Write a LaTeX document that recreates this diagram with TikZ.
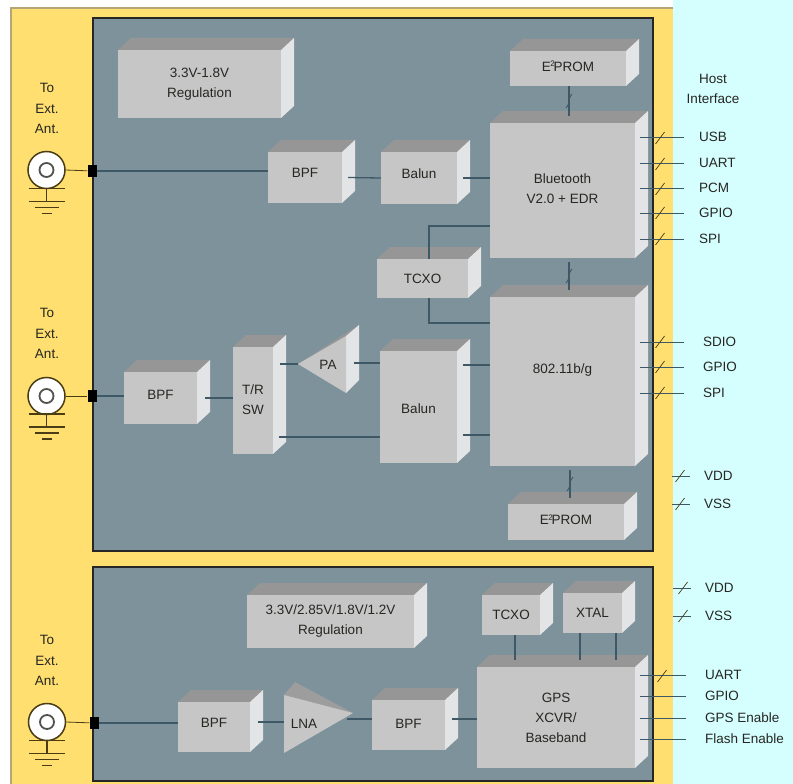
\documentclass[tikz,border=0pt]{standalone}
\usepackage{fontspec}
\setmainfont{Liberation Sans}
\definecolor{yel}{HTML}{FFDF70}
\definecolor{panel}{HTML}{7D929B}
\definecolor{frontc}{HTML}{C6C6C6}
\definecolor{topc}{HTML}{969696}
\definecolor{sidec}{HTML}{E2E4E6}
\definecolor{cyanbg}{HTML}{D5FFFF}
\definecolor{wire}{HTML}{3F5866}
\definecolor{ink}{HTML}{262622}
\definecolor{brownl}{HTML}{4A3C14}
\definecolor{tanl}{HTML}{B5A67A}
\tikzset{
  x=1pt,y=-1pt,
  boxface/.style={fill=frontc,inner sep=0pt},
  lab/.style={text=ink,inner sep=0pt,align=center,font=\fontsize{13.5}{20}\selectfont},
  rlab/.style={lab,anchor=west},
  conn/.style={wire,line width=1.3pt},
  bus/.style={wire,line width=1.1pt},
  slashmark/.style={brownl,line width=.7pt},
  pinbox/.style={fill=black,inner sep=0pt,minimum width=9pt,minimum height=12pt},
  ant/.style={circle,draw=brownl,line width=1.5pt,fill=white,inner sep=0pt,minimum size=37pt},
  antin/.style={circle,draw=ink!80,line width=1.8pt,fill=white,inner sep=0pt,minimum size=14pt},
  gnd/.style={brownl,line width=1.1pt},
  pan/.style={fill=panel,draw=black!85,line width=1.6pt}
}
% [text lift], name, x1, y1, x2, y2, text
\newcommand{\bxthree}[7][0]{%
  \fill[topc] (#3,#4) -- (#3+13,#4-12) -- (#5+13,#4-12) -- (#5,#4) -- cycle;
  \fill[sidec] (#5,#4) -- (#5+13,#4-12) -- (#5+13,#6-12) -- (#5,#6) -- cycle;
  \node[boxface,minimum width={(#5-#3)*1pt},minimum height={(#6-#4)*1pt}] (#2) at ({(#3+#5)/2},{(#4+#6)/2}) {};
  \node[lab] (#2t) at ([yshift=#1pt]#2.center) {#7};
}
% suffix, x, y of antenna centre, y of first ground bar
\newcommand{\antenna}[4]{%
  \node[ant] (ant#1) at (#2,#3) {};
  \node[antin] (antc#1) at (#2,#3) {};
  \draw[gnd] (#2-18,#4) -- (#2+18,#4);
  \draw[gnd] (#2,#4) -- (#2,#4+13);
  \draw[gnd] (#2-18,#4+13) -- (#2+18,#4+13);
  \draw[gnd] (#2-12,#4+19) -- (#2+12,#4+19);
  \draw[gnd] (#2-5,#4+25) -- (#2+5,#4+25);
}
\newcommand{\toext}[3]{%
  \node[lab] at (#1,#2) {To};
  \node[lab] at (#1,#2+20.5) {Ext.};
  \node[lab] at (#1,#2+41) {Ant.};
}
\newcommand{\eprom}{E\kern-.5pt\raisebox{4.5pt}{\fontsize{8}{8}\selectfont 2}\kern-1pt PROM}
\newcommand{\tick}[2]{\draw[slashmark] (#1-4.5,#2+6) -- (#1+4.5,#2-6);}
\newcommand{\vtick}[2]{\draw[wire,line width=.9pt] (#1-3,#2+7) .. controls (#1+2,#2+1) and (#1-2,#2-1) .. (#1+3,#2-7);}
\begin{document}
\begin{tikzpicture}
\useasboundingbox (0,0) rectangle (793,784);
\fill[white] (0,0) rectangle (793,784);
\fill[cyanbg] (673,0) rectangle (793,784);
\fill[yel] (11,8) rectangle (673,784);
\draw[tanl,line width=1.2pt] (11,784) -- (11,8) -- (673,8);
\draw[pan] (93,18) rectangle (653,551);
\draw[pan] (93,567) rectangle (653,781);

% boxes, upper panel
\bxthree{regA}{118}{50}{281}{118}{3.3V-1.8V\\Regulation}
\bxthree[2]{epA}{510}{51}{626}{86}{\eprom}
\bxthree[5]{bpfA}{268}{152}{342}{203}{BPF}
\bxthree[4]{balA}{381}{152}{457}{204}{Balun}
\bxthree[2]{bt}{490}{123}{635}{258}{Bluetooth\\V2.0 + EDR}
\bxthree{tcxoA}{377}{259}{468}{298}{TCXO}
\bxthree[11]{wifi}{490}{297}{635}{466}{802.11b/g}
\bxthree[-2]{balB}{380}{351}{457}{463}{Balun}
\bxthree[1]{trsw}{233}{347}{273}{454}{T/R\\SW}
\bxthree[3]{bpfB}{124}{372}{197}{424}{BPF}
\bxthree[2]{epB}{508}{504}{624}{540}{\eprom}

% PA
\fill[topc] (298,364) -- (346,336) -- (359,325) -- (346,333) -- cycle;
\fill[sidec] (346,336) -- (359,325) -- (359,380) -- (346,393) -- cycle;
\fill[frontc] (298,364) -- (346,336) -- (346,393) -- cycle;
\node[lab] (pa) at (328,365) {PA};
\coordinate (paIn) at (298,364);
\coordinate (paOut) at (354,363);

% boxes, lower panel
\bxthree{regB}{247}{595}{414}{648}{3.3V/2.85V/1.8V/1.2V\\Regulation}
\bxthree{tcxoB}{482}{595}{540}{635}{TCXO}
\bxthree{xtal}{563}{593}{622}{633}{XTAL}
\bxthree{gps}{477}{667}{635}{768}{GPS\\XCVR/\\Baseband}
\bxthree[4]{bpfC}{178}{702}{250}{752}{BPF}
\bxthree[1]{bpfD}{372}{700}{445}{750}{BPF}

% LNA
\fill[topc!85!frontc] (284,695) -- (295,682) -- (353,713) -- cycle;
\fill[frontc] (284,695) -- (353,713) -- (284,753) -- cycle;
\node[lab] (lna) at (304,724) {LNA};
\coordinate (lnaIn) at (284,722);
\coordinate (lnaOut) at (347,719);

% antennas and labels
\toext{47}{88}{}
\toext{47}{313}{}
\toext{47}{640}{}
\antenna{A}{46.5}{170}{188.5}
\antenna{B}{46.5}{396}{414}
\antenna{C}{47}{722}{740.5}
\node[pinbox] (pinA) at (92,171) {};
\node[pinbox] (pinB) at (92,396) {};
\node[pinbox] (pinC) at (94,723) {};

% connectors
\draw[gnd,line width=.8pt] (antA.east) -- (pinA);
\draw[gnd,line width=.8pt] (antB.east) -- (pinB);
\draw[gnd,line width=.8pt] (antC.east) -- (pinC);
\draw[conn] (pinA) -- (bpfA.west |- pinA);
\draw[conn] ([xshift=6pt]bpfA.east) -- (balA.west);
\draw[conn] ([xshift=6pt]balA.east) -- (bt.west |- balA.east);
\draw[conn] (tcxoA.north -| 429,259) -- (429,226) -- (bt.west |- 490,226);
\draw[conn] (tcxoA.south -| 429,298) -- (429,323) -- (wifi.west |- 490,323);
\draw[conn] (pinB) -- (bpfB.west |- pinB);
\draw[conn] ([xshift=8pt]bpfB.east) -- (trsw.west |- bpfB.east);
\draw[conn] ([xshift=7pt]trsw.east |- paIn) -- (paIn);
\draw[conn] (paOut) -- (balB.west |- paOut);
\draw[conn] ([xshift=6pt]trsw.east |- 279,437) -- (balB.west |- 279,437);
\draw[conn] ([xshift=6pt]balB.east |- 463,365) -- (wifi.west |- 463,365);
\draw[conn] ([xshift=6pt]balB.east |- 463,435) -- (wifi.west |- 463,435);
\draw[conn] (pinC) -- (bpfC.west |- pinC);
\draw[conn] ([xshift=8pt]bpfC.east |- lnaIn) -- (lnaIn);
\draw[conn] (lnaOut) -- (bpfD.west |- lnaOut);
\draw[conn] ([xshift=7pt]bpfD.east |- lnaOut) -- (gps.west |- lnaOut);
\draw[bus] (epA.south -| 569,87) -- (569,116);
\vtick{569}{101}
\draw[bus] (569,262) -- (569,290);
\vtick{569}{276}
\draw[bus] (570,470) -- (570,498);
\vtick{570}{484}
\draw[conn] (tcxoB.south -| 515,636) -- (515,660);
\draw[conn] (xtal.south -| 580,634) -- (580,660);
\draw[conn] (xtal.south -| 616,634) -- (616,660);

% right-hand labels
\node[lab] at (713,79) {Host};
\node[lab] at (713,99) {Interface};
\node[rlab] (usb) at (699,137) {USB};
\node[rlab] (uart) at (699,163) {UART};
\node[rlab] (pcm) at (699,188) {PCM};
\node[rlab] (gpioA) at (699,213) {GPIO};
\node[rlab] (spiA) at (699,239) {SPI};
\node[rlab] (sdio) at (703,342) {SDIO};
\node[rlab] (gpioB) at (703,367) {GPIO};
\node[rlab] (spiB) at (703,393) {SPI};
\node[rlab] (vddA) at (704,476) {VDD};
\node[rlab] (vssA) at (704,504) {VSS};
\node[rlab] (vddB) at (705,588) {VDD};
\node[rlab] (vssB) at (705,616) {VSS};
\node[rlab] (uartB) at (705,675) {UART};
\node[rlab] (gpioC) at (705,696) {GPIO};
\node[rlab] (gpsen) at (705,718) {GPS Enable};
\node[rlab] (flash) at (705,739) {Flash Enable};

\foreach \n/\yy in {usb/138,uart/164,pcm/189,gpioA/213,spiA/239}{
  \draw[bus,line width=.9pt] ([xshift=5pt]bt.east |- \n.west) -- ([xshift=-15pt]\n.west);
  \tick{660}{\yy}
}
\foreach \n/\yy in {sdio/342,gpioB/367,spiB/393}{
  \draw[bus,line width=.9pt] ([xshift=5pt]wifi.east |- \n.west) -- ([xshift=-19pt]\n.west);
  \tick{660}{\yy}
}
\foreach \n/\yy in {vddA/476,vssA/504}{
  \draw[wire,line width=.8pt] ([xshift=-32pt]\n.west) -- ([xshift=-14pt]\n.west);
  \tick{680}{\yy}
}
\foreach \n/\yy in {vddB/588,vssB/616}{
  \draw[wire,line width=.8pt] ([xshift=-32pt]\n.west) -- ([xshift=-14pt]\n.west);
  \tick{683}{\yy}
}
\foreach \n in {uartB,gpioC,gpsen,flash}{
  \draw[bus,line width=.9pt] ([xshift=5pt]gps.east |- \n.west) -- ([xshift=-19pt]\n.west);
}
\tick{662}{676}
\end{tikzpicture}
\end{document}
